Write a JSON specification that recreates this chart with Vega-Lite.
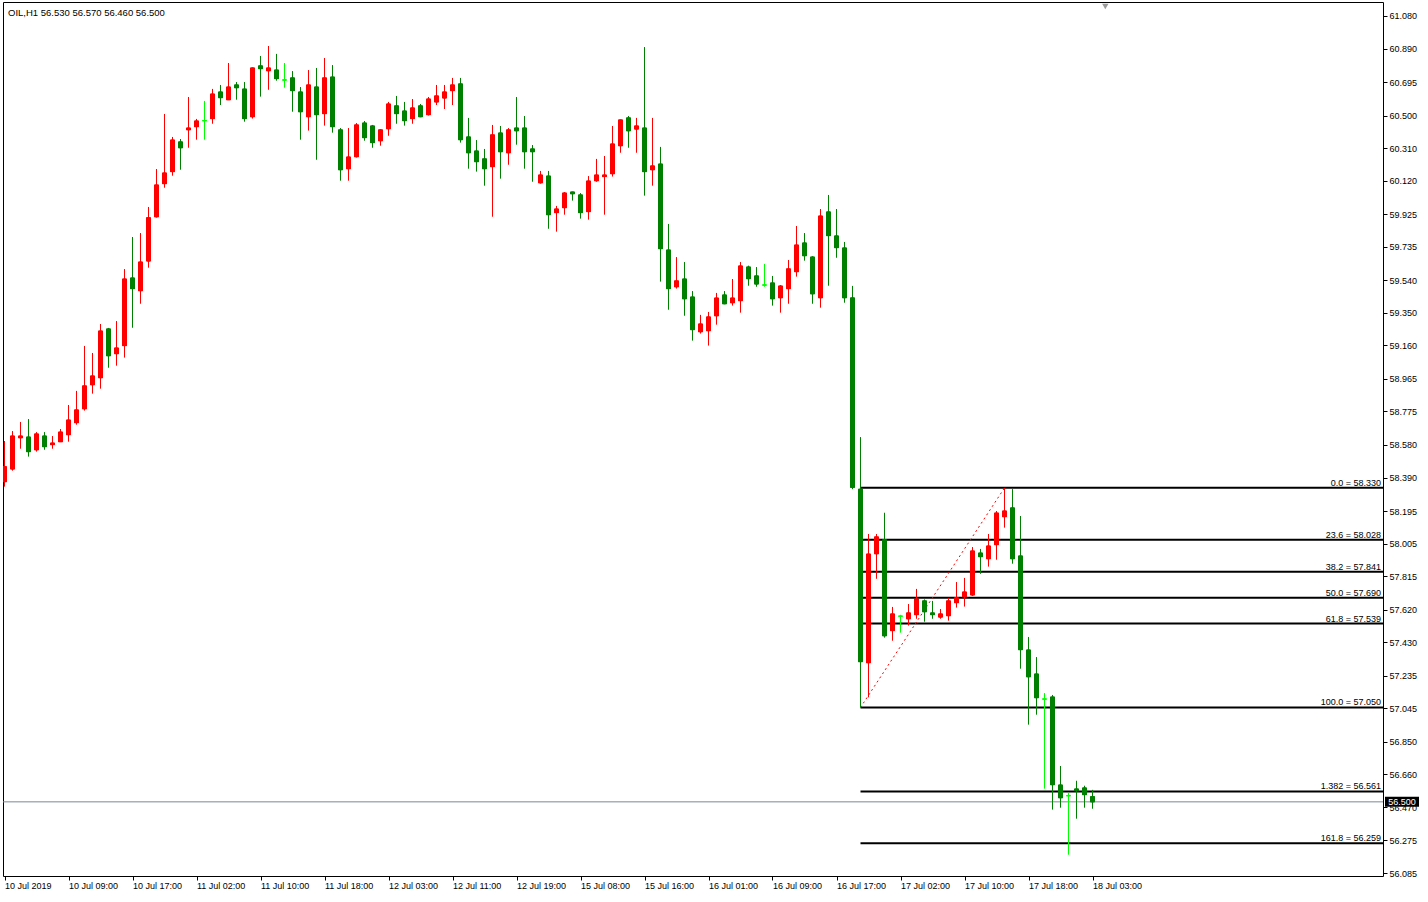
{
 "$schema": "https://vega.github.io/schema/vega-lite/v6.json",
 "width": 1380,
 "height": 874,
 "autosize": {"type": "none"},
 "padding": {"left": 3, "top": 2, "right": 45, "bottom": 26},
 "background": "#ffffff",
 "config": {
  "view": {"stroke": "#000000", "strokeWidth": 1},
  "font": "Liberation Sans",
  "axis": {"grid": false, "domain": false, "tickSize": 4, "tickColor": "#000000", "labelFontSize": 9, "labelFont": "Liberation Sans", "labelColor": "#000000", "labelOverlap": false, "labelBound": false, "labelFlush": false},
  "axisX": {"labelAlign": "left", "labelBaseline": "top", "labelPadding": 1},
  "axisY": {"labelAlign": "left", "labelBaseline": "middle", "labelPadding": 2}
 },
 "title": {"text": "OIL,H1  56.530 56.570 56.460 56.500", "anchor": "start", "frame": "group", "offset": -15, "dx": 5, "fontSize": 9.5, "fontWeight": "normal", "font": "Liberation Sans", "color": "#000000"},
 "datasets": {
  "candles": [
   {"i":0,"t":"2019-07-10 01:00","o":58.366,"h":58.603,"l":58.337,"c":58.453},
   {"i":1,"t":"2019-07-10 02:00","o":58.440,"h":58.661,"l":58.430,"c":58.632},
   {"i":2,"t":"2019-07-10 03:00","o":58.622,"h":58.714,"l":58.558,"c":58.632},
   {"i":3,"t":"2019-07-10 04:00","o":58.626,"h":58.731,"l":58.512,"c":58.541},
   {"i":4,"t":"2019-07-10 05:00","o":58.552,"h":58.655,"l":58.541,"c":58.644},
   {"i":5,"t":"2019-07-10 06:00","o":58.632,"h":58.655,"l":58.552,"c":58.570},
   {"i":6,"t":"2019-07-10 07:00","o":58.582,"h":58.632,"l":58.558,"c":58.591},
   {"i":7,"t":"2019-07-10 08:00","o":58.599,"h":58.673,"l":58.597,"c":58.655},
   {"i":8,"t":"2019-07-10 09:00","o":58.640,"h":58.813,"l":58.599,"c":58.725},
   {"i":9,"t":"2019-07-10 10:00","o":58.710,"h":58.895,"l":58.698,"c":58.784},
   {"i":10,"t":"2019-07-10 11:00","o":58.791,"h":59.157,"l":58.780,"c":58.924},
   {"i":11,"t":"2019-07-10 12:00","o":58.931,"h":59.116,"l":58.879,"c":58.982},
   {"i":12,"t":"2019-07-10 13:00","o":58.972,"h":59.285,"l":58.908,"c":59.244},
   {"i":13,"t":"2019-07-10 14:00","o":59.256,"h":59.262,"l":59.030,"c":59.100},
   {"i":14,"t":"2019-07-10 15:00","o":59.112,"h":59.302,"l":59.042,"c":59.145},
   {"i":15,"t":"2019-07-10 16:00","o":59.159,"h":59.605,"l":59.089,"c":59.547},
   {"i":16,"t":"2019-07-10 17:00","o":59.553,"h":59.792,"l":59.263,"c":59.491},
   {"i":17,"t":"2019-07-10 18:00","o":59.479,"h":59.815,"l":59.403,"c":59.646},
   {"i":18,"t":"2019-07-10 19:00","o":59.652,"h":59.967,"l":59.613,"c":59.904},
   {"i":19,"t":"2019-07-10 20:00","o":59.910,"h":60.188,"l":59.905,"c":60.095},
   {"i":20,"t":"2019-07-10 21:00","o":60.103,"h":60.509,"l":60.079,"c":60.165},
   {"i":21,"t":"2019-07-10 22:00","o":60.173,"h":60.375,"l":60.149,"c":60.357},
   {"i":22,"t":"2019-07-10 23:00","o":60.346,"h":60.363,"l":60.184,"c":60.312},
   {"i":23,"t":"2019-07-11 01:00","o":60.417,"h":60.608,"l":60.312,"c":60.427},
   {"i":24,"t":"2019-07-11 02:00","o":60.435,"h":60.480,"l":60.359,"c":60.468},
   {"i":25,"t":"2019-07-11 03:00","o":60.470,"h":60.585,"l":60.359,"c":60.470},
   {"i":26,"t":"2019-07-11 04:00","o":60.482,"h":60.655,"l":60.452,"c":60.625},
   {"i":27,"t":"2019-07-11 05:00","o":60.637,"h":60.678,"l":60.561,"c":60.604},
   {"i":28,"t":"2019-07-11 06:00","o":60.592,"h":60.806,"l":60.590,"c":60.666},
   {"i":29,"t":"2019-07-11 07:00","o":60.678,"h":60.695,"l":60.592,"c":60.662},
   {"i":30,"t":"2019-07-11 08:00","o":60.654,"h":60.695,"l":60.464,"c":60.482},
   {"i":31,"t":"2019-07-11 09:00","o":60.493,"h":60.780,"l":60.482,"c":60.777},
   {"i":32,"t":"2019-07-11 10:00","o":60.789,"h":60.847,"l":60.610,"c":60.773},
   {"i":33,"t":"2019-07-11 11:00","o":60.761,"h":60.905,"l":60.650,"c":60.777},
   {"i":34,"t":"2019-07-11 12:00","o":60.765,"h":60.859,"l":60.703,"c":60.715},
   {"i":35,"t":"2019-07-11 13:00","o":60.707,"h":60.806,"l":60.662,"c":60.707},
   {"i":36,"t":"2019-07-11 14:00","o":60.719,"h":60.759,"l":60.522,"c":60.645},
   {"i":37,"t":"2019-07-11 15:00","o":60.637,"h":60.666,"l":60.359,"c":60.522},
   {"i":38,"t":"2019-07-11 16:00","o":60.493,"h":60.765,"l":60.412,"c":60.678},
   {"i":39,"t":"2019-07-11 17:00","o":60.666,"h":60.777,"l":60.242,"c":60.505},
   {"i":40,"t":"2019-07-11 18:00","o":60.511,"h":60.835,"l":60.441,"c":60.719},
   {"i":41,"t":"2019-07-11 19:00","o":60.724,"h":60.794,"l":60.400,"c":60.435},
   {"i":42,"t":"2019-07-11 20:00","o":60.416,"h":60.427,"l":60.120,"c":60.184},
   {"i":43,"t":"2019-07-11 21:00","o":60.190,"h":60.427,"l":60.120,"c":60.258},
   {"i":44,"t":"2019-07-11 22:00","o":60.260,"h":60.456,"l":60.255,"c":60.445},
   {"i":45,"t":"2019-07-11 23:00","o":60.456,"h":60.468,"l":60.353,"c":60.371},
   {"i":46,"t":"2019-07-12 01:00","o":60.439,"h":60.445,"l":60.312,"c":60.342},
   {"i":47,"t":"2019-07-12 02:00","o":60.353,"h":60.420,"l":60.324,"c":60.416},
   {"i":48,"t":"2019-07-12 03:00","o":60.423,"h":60.579,"l":60.382,"c":60.567},
   {"i":49,"t":"2019-07-12 04:00","o":60.556,"h":60.614,"l":60.452,"c":60.511},
   {"i":50,"t":"2019-07-12 05:00","o":60.526,"h":60.579,"l":60.441,"c":60.470},
   {"i":51,"t":"2019-07-12 06:00","o":60.482,"h":60.596,"l":60.452,"c":60.544},
   {"i":52,"t":"2019-07-12 07:00","o":60.556,"h":60.567,"l":60.490,"c":60.493},
   {"i":53,"t":"2019-07-12 08:00","o":60.505,"h":60.608,"l":60.500,"c":60.596},
   {"i":54,"t":"2019-07-12 09:00","o":60.579,"h":60.678,"l":60.561,"c":60.614},
   {"i":55,"t":"2019-07-12 10:00","o":60.602,"h":60.678,"l":60.538,"c":60.637},
   {"i":56,"t":"2019-07-12 11:00","o":60.645,"h":60.719,"l":60.561,"c":60.678},
   {"i":57,"t":"2019-07-12 12:00","o":60.684,"h":60.719,"l":60.342,"c":60.359},
   {"i":58,"t":"2019-07-12 13:00","o":60.375,"h":60.486,"l":60.190,"c":60.283},
   {"i":59,"t":"2019-07-12 14:00","o":60.293,"h":60.357,"l":60.173,"c":60.231},
   {"i":60,"t":"2019-07-12 15:00","o":60.247,"h":60.305,"l":60.091,"c":60.190},
   {"i":61,"t":"2019-07-12 16:00","o":60.202,"h":60.445,"l":59.910,"c":60.387},
   {"i":62,"t":"2019-07-12 17:00","o":60.398,"h":60.439,"l":60.132,"c":60.289},
   {"i":63,"t":"2019-07-12 18:00","o":60.283,"h":60.427,"l":60.213,"c":60.416},
   {"i":64,"t":"2019-07-12 19:00","o":60.427,"h":60.608,"l":60.330,"c":60.411},
   {"i":65,"t":"2019-07-12 20:00","o":60.427,"h":60.497,"l":60.190,"c":60.289},
   {"i":66,"t":"2019-07-12 21:00","o":60.305,"h":60.328,"l":60.114,"c":60.289},
   {"i":67,"t":"2019-07-12 22:00","o":60.108,"h":60.177,"l":60.103,"c":60.153},
   {"i":68,"t":"2019-07-12 23:00","o":60.147,"h":60.177,"l":59.840,"c":59.922},
   {"i":69,"t":"2019-07-15 05:00","o":59.934,"h":59.973,"l":59.823,"c":59.955},
   {"i":70,"t":"2019-07-15 06:00","o":59.963,"h":60.054,"l":59.922,"c":60.048},
   {"i":71,"t":"2019-07-15 07:00","o":60.054,"h":60.056,"l":60.004,"c":60.044},
   {"i":72,"t":"2019-07-15 08:00","o":60.037,"h":60.048,"l":59.899,"c":59.934},
   {"i":73,"t":"2019-07-15 09:00","o":59.940,"h":60.147,"l":59.893,"c":60.118},
   {"i":74,"t":"2019-07-15 10:00","o":60.120,"h":60.247,"l":60.114,"c":60.153},
   {"i":75,"t":"2019-07-15 11:00","o":60.144,"h":60.264,"l":59.922,"c":60.153},
   {"i":76,"t":"2019-07-15 12:00","o":60.161,"h":60.439,"l":60.144,"c":60.334},
   {"i":77,"t":"2019-07-15 13:00","o":60.324,"h":60.476,"l":60.283,"c":60.474},
   {"i":78,"t":"2019-07-15 14:00","o":60.486,"h":60.497,"l":60.312,"c":60.411},
   {"i":79,"t":"2019-07-15 15:00","o":60.421,"h":60.486,"l":60.283,"c":60.439},
   {"i":80,"t":"2019-07-15 16:00","o":60.427,"h":60.899,"l":60.033,"c":60.173},
   {"i":81,"t":"2019-07-15 17:00","o":60.184,"h":60.486,"l":60.091,"c":60.206},
   {"i":82,"t":"2019-07-15 18:00","o":60.217,"h":60.317,"l":59.532,"c":59.724},
   {"i":83,"t":"2019-07-15 19:00","o":59.716,"h":59.868,"l":59.368,"c":59.491},
   {"i":84,"t":"2019-07-15 20:00","o":59.502,"h":59.675,"l":59.491,"c":59.536},
   {"i":85,"t":"2019-07-15 21:00","o":59.547,"h":59.646,"l":59.333,"c":59.432},
   {"i":86,"t":"2019-07-15 22:00","o":59.442,"h":59.477,"l":59.188,"c":59.252},
   {"i":87,"t":"2019-07-15 23:00","o":59.240,"h":59.338,"l":59.229,"c":59.285},
   {"i":88,"t":"2019-07-16 01:00","o":59.246,"h":59.355,"l":59.159,"c":59.326},
   {"i":89,"t":"2019-07-16 02:00","o":59.333,"h":59.466,"l":59.281,"c":59.436},
   {"i":90,"t":"2019-07-16 03:00","o":59.454,"h":59.477,"l":59.400,"c":59.403},
   {"i":91,"t":"2019-07-16 04:00","o":59.409,"h":59.547,"l":59.392,"c":59.436},
   {"i":92,"t":"2019-07-16 05:00","o":59.421,"h":59.646,"l":59.351,"c":59.623},
   {"i":93,"t":"2019-07-16 06:00","o":59.617,"h":59.625,"l":59.508,"c":59.549},
   {"i":94,"t":"2019-07-16 07:00","o":59.565,"h":59.617,"l":59.502,"c":59.518},
   {"i":95,"t":"2019-07-16 08:00","o":59.512,"h":59.635,"l":59.502,"c":59.512},
   {"i":96,"t":"2019-07-16 09:00","o":59.524,"h":59.565,"l":59.392,"c":59.432},
   {"i":97,"t":"2019-07-16 10:00","o":59.438,"h":59.512,"l":59.351,"c":59.506},
   {"i":98,"t":"2019-07-16 11:00","o":59.491,"h":59.658,"l":59.403,"c":59.606},
   {"i":99,"t":"2019-07-16 12:00","o":59.590,"h":59.856,"l":59.561,"c":59.745},
   {"i":100,"t":"2019-07-16 13:00","o":59.757,"h":59.815,"l":59.654,"c":59.683},
   {"i":101,"t":"2019-07-16 14:00","o":59.675,"h":59.680,"l":59.403,"c":59.461},
   {"i":102,"t":"2019-07-16 15:00","o":59.438,"h":59.955,"l":59.380,"c":59.914},
   {"i":103,"t":"2019-07-16 16:00","o":59.938,"h":60.037,"l":59.508,"c":59.800},
   {"i":104,"t":"2019-07-16 17:00","o":59.798,"h":59.955,"l":59.671,"c":59.730},
   {"i":105,"t":"2019-07-16 18:00","o":59.728,"h":59.763,"l":59.409,"c":59.438},
   {"i":106,"t":"2019-07-16 19:00","o":59.437,"h":59.507,"l":58.322,"c":58.333},
   {"i":107,"t":"2019-07-16 20:00","o":58.322,"h":58.626,"l":57.050,"c":57.317},
   {"i":108,"t":"2019-07-16 21:00","o":57.311,"h":58.061,"l":57.109,"c":57.944},
   {"i":109,"t":"2019-07-16 22:00","o":57.946,"h":58.061,"l":57.800,"c":58.044},
   {"i":110,"t":"2019-07-16 23:00","o":58.028,"h":58.185,"l":57.457,"c":57.468},
   {"i":111,"t":"2019-07-17 01:00","o":57.498,"h":57.636,"l":57.439,"c":57.595},
   {"i":112,"t":"2019-07-17 02:00","o":57.582,"h":57.590,"l":57.486,"c":57.582},
   {"i":113,"t":"2019-07-17 03:00","o":57.567,"h":57.653,"l":57.527,"c":57.601},
   {"i":114,"t":"2019-07-17 04:00","o":57.591,"h":57.741,"l":57.567,"c":57.682},
   {"i":115,"t":"2019-07-17 05:00","o":57.671,"h":57.680,"l":57.550,"c":57.608},
   {"i":116,"t":"2019-07-17 06:00","o":57.601,"h":57.671,"l":57.567,"c":57.591},
   {"i":117,"t":"2019-07-17 07:00","o":57.577,"h":57.624,"l":57.567,"c":57.595},
   {"i":118,"t":"2019-07-17 08:00","o":57.585,"h":57.688,"l":57.556,"c":57.671},
   {"i":119,"t":"2019-07-17 09:00","o":57.661,"h":57.781,"l":57.632,"c":57.690},
   {"i":120,"t":"2019-07-17 10:00","o":57.696,"h":57.805,"l":57.638,"c":57.723},
   {"i":121,"t":"2019-07-17 11:00","o":57.706,"h":57.985,"l":57.700,"c":57.962},
   {"i":122,"t":"2019-07-17 12:00","o":57.950,"h":57.974,"l":57.829,"c":57.929},
   {"i":123,"t":"2019-07-17 13:00","o":57.917,"h":58.061,"l":57.871,"c":57.991},
   {"i":124,"t":"2019-07-17 14:00","o":57.999,"h":58.195,"l":57.911,"c":58.183},
   {"i":125,"t":"2019-07-17 15:00","o":58.162,"h":58.330,"l":58.098,"c":58.195},
   {"i":126,"t":"2019-07-17 16:00","o":58.213,"h":58.323,"l":57.888,"c":57.917},
   {"i":127,"t":"2019-07-17 17:00","o":57.933,"h":58.166,"l":57.276,"c":57.387},
   {"i":128,"t":"2019-07-17 18:00","o":57.385,"h":57.461,"l":56.950,"c":57.229},
   {"i":129,"t":"2019-07-17 19:00","o":57.245,"h":57.344,"l":57.008,"c":57.107},
   {"i":130,"t":"2019-07-17 20:00","o":57.099,"h":57.134,"l":56.577,"c":57.099},
   {"i":131,"t":"2019-07-17 21:00","o":57.111,"h":57.123,"l":56.455,"c":56.600},
   {"i":132,"t":"2019-07-17 22:00","o":56.598,"h":56.709,"l":56.466,"c":56.524},
   {"i":133,"t":"2019-07-17 23:00","o":56.536,"h":56.553,"l":56.192,"c":56.536},
   {"i":134,"t":"2019-07-18 01:00","o":56.575,"h":56.623,"l":56.402,"c":56.565},
   {"i":135,"t":"2019-07-18 02:00","o":56.581,"h":56.594,"l":56.466,"c":56.542},
   {"i":136,"t":"2019-07-18 03:00","o":56.530,"h":56.570,"l":56.460,"c":56.500}
  ],
  "fib": [
   {"level": 58.330, "label": "0.0 = 58.330"},
   {"level": 58.028, "label": "23.6 = 58.028"},
   {"level": 57.841, "label": "38.2 = 57.841"},
   {"level": 57.690, "label": "50.0 = 57.690"},
   {"level": 57.539, "label": "61.8 = 57.539"},
   {"level": 57.050, "label": "100.0 = 57.050"},
   {"level": 56.561, "label": "1.382 = 56.561"},
   {"level": 56.259, "label": "161.8 = 56.259"}
  ],
  "trend": [
   {"i": 107, "p": 57.050},
   {"i": 125, "p": 58.330}
  ]
 },
 "layer": [
  {
   "data": {"name": "candles"},
   "mark": {"type": "bar", "width": 4, "strokeWidth": 1, "clip": true},
   "encoding": {
    "x": {"field": "i", "type": "quantitative", "title": null, "scale": {"domain": [-0.1875, 172.3125], "nice": false, "zero": false, "padding": 0},
     "axis": {"orient": "bottom", "title": null, "labelAlign": "left", "labelOverlap": false, "tickCount": 60, "values": [0, 8, 16, 24, 32, 40, 48, 56, 64, 72, 80, 88, 96, 104, 112, 120, 128, 136],
      "labelExpr": "['10 Jul 2019','10 Jul 09:00','10 Jul 17:00','11 Jul 02:00','11 Jul 10:00','11 Jul 18:00','12 Jul 03:00','12 Jul 11:00','12 Jul 19:00','15 Jul 08:00','15 Jul 16:00','16 Jul 01:00','16 Jul 09:00','16 Jul 17:00','17 Jul 02:00','17 Jul 10:00','17 Jul 18:00','18 Jul 03:00'][round(datum.value/8)]"}},
    "y": {"field": "o", "type": "quantitative", "title": null, "scale": {"domain": [56.0679, 61.1615], "nice": false, "zero": false, "padding": 0},
     "axis": {"orient": "right", "title": null, "format": ".3f", "labelOverlap": false, "labelAlign": "left", "tickCount": 60, "values": [61.080, 60.890, 60.695, 60.500, 60.310, 60.120, 59.925, 59.735, 59.540, 59.350, 59.160, 58.965, 58.775, 58.580, 58.390, 58.195, 58.005, 57.815, 57.620, 57.430, 57.235, 57.045, 56.850, 56.660, 56.470, 56.275, 56.085]}},
    "y2": {"field": "c"},
    "fill": {"condition": [{"test": "datum.c > datum.o", "value": "#ff0000"}, {"test": "datum.c < datum.o", "value": "#008000"}], "value": "#00ff00"},
    "stroke": {"condition": [{"test": "datum.c > datum.o", "value": "#ff0000"}, {"test": "datum.c < datum.o", "value": "#008000"}], "value": "#00ff00"}
   }
  },
  {
   "data": {"name": "candles"},
   "transform": [{"filter": "datum.i == 136"}],
   "mark": {"type": "rule", "color": "#778899", "strokeWidth": 1},
   "encoding": {
    "y": {"field": "c", "type": "quantitative", "title": null}
   }
  },
  {
   "data": {"name": "fib"},
   "mark": {"type": "rule", "color": "#000000", "strokeWidth": 2},
   "encoding": {
    "x": {"datum": 107, "type": "quantitative", "title": null},
    "x2": {"datum": 172.3125},
    "y": {"field": "level", "type": "quantitative", "title": null}
   }
  },
  {
   "data": {"name": "trend"},
   "mark": {"type": "line", "color": "#ff0000", "strokeWidth": 1, "strokeDash": [2, 3]},
   "encoding": {
    "x": {"field": "i", "type": "quantitative", "title": null},
    "y": {"field": "p", "type": "quantitative", "title": null}
   }
  },
  {
   "data": {"name": "candles"},
   "mark": {"type": "rule", "strokeWidth": 1, "clip": true},
   "encoding": {
    "x": {"field": "i", "type": "quantitative", "title": null},
    "y": {"field": "l", "type": "quantitative", "title": null},
    "y2": {"field": "h"},
    "stroke": {"condition": [{"test": "datum.c > datum.o", "value": "#ff0000"}, {"test": "datum.c < datum.o", "value": "#008000"}], "value": "#00ff00"}
   }
  },
  {
   "data": {"name": "candles"},
   "mark": {"type": "bar", "width": 4, "strokeWidth": 1, "clip": true},
   "encoding": {
    "x": {"field": "i", "type": "quantitative", "title": null},
    "y": {"field": "o", "type": "quantitative", "title": null},
    "y2": {"field": "c"},
    "fill": {"condition": [{"test": "datum.c > datum.o", "value": "#ff0000"}, {"test": "datum.c < datum.o", "value": "#008000"}], "value": "#00ff00"},
    "stroke": {"condition": [{"test": "datum.c > datum.o", "value": "#ff0000"}, {"test": "datum.c < datum.o", "value": "#008000"}], "value": "#00ff00"}
   }
  },
  {
   "data": {"name": "fib"},
   "mark": {"type": "text", "align": "right", "baseline": "alphabetic", "dx": -2, "dy": -2, "fontSize": 9, "font": "Liberation Sans", "color": "#000000"},
   "encoding": {
    "x": {"datum": 172.3125, "type": "quantitative", "title": null},
    "y": {"field": "level", "type": "quantitative", "title": null},
    "text": {"field": "label"}
   }
  },
  {
   "data": {"name": "candles"},
   "transform": [{"filter": "datum.i == 136"}],
   "mark": {"type": "point", "shape": "M-1,-0.294L1,-0.294L1,0.294L-1,0.294Z", "size": 1156, "filled": true, "color": "#000000", "opacity": 1, "strokeWidth": 0},
   "encoding": {
    "x": {"datum": 174.6875, "type": "quantitative", "title": null},
    "y": {"field": "c", "type": "quantitative", "title": null}
   }
  },
  {
   "data": {"name": "candles"},
   "transform": [{"filter": "datum.i == 136"}],
   "mark": {"type": "text", "align": "center", "baseline": "middle", "fontSize": 9, "font": "Liberation Sans", "color": "#ffffff"},
   "encoding": {
    "x": {"datum": 174.6875, "type": "quantitative", "title": null},
    "y": {"field": "c", "type": "quantitative", "title": null},
    "text": {"field": "c", "type": "quantitative", "format": ".3f"}
   }
  },
  {
   "data": {"values": [{"shift": 137.6}]},
   "mark": {"type": "point", "shape": "triangle-down", "size": 40, "filled": true, "color": "#9a9a9a", "opacity": 1},
   "encoding": {
    "x": {"field": "shift", "type": "quantitative", "title": null},
    "y": {"datum": 61.135, "type": "quantitative", "title": null}
   }
  }
 ]
}
